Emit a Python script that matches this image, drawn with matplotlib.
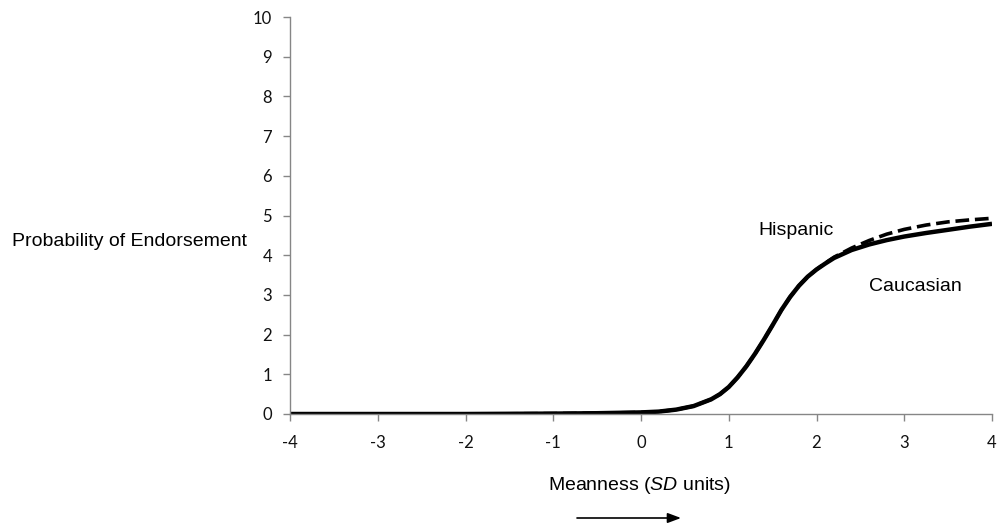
import matplotlib
matplotlib.use("Agg")
import matplotlib.pyplot as plt

plt.rcParams["mathtext.fontset"] = "custom"
plt.rcParams["mathtext.it"] = "Liberation Sans:italic"
plt.rcParams["mathtext.rm"] = "Liberation Sans"

# Data
meanness = [-4.0, -3.0, -2.0, -1.0, -0.5, 0.0, 0.2, 0.4, 0.6, 0.8, 0.9, 1.0,
            1.1, 1.2, 1.3, 1.4, 1.5, 1.6, 1.7, 1.8, 1.9, 2.0, 2.1, 2.2, 2.4,
            2.6, 2.8, 3.0, 3.25, 3.5, 3.75, 4.0]
caucasian = [0.0, 0.0, 0.0, 0.01, 0.02, 0.04, 0.06, 0.11, 0.2, 0.37, 0.5, 0.68,
             0.92, 1.2, 1.52, 1.87, 2.24, 2.62, 2.95, 3.23, 3.46, 3.64, 3.79,
             3.93, 4.13, 4.27, 4.38, 4.47, 4.56, 4.64, 4.72, 4.79]
hispanic = [0.0, 0.0, 0.0, 0.01, 0.02, 0.04, 0.06, 0.11, 0.2, 0.37, 0.5, 0.68,
            0.92, 1.2, 1.52, 1.87, 2.24, 2.62, 2.95, 3.23, 3.46, 3.64, 3.80,
            3.95, 4.18, 4.37, 4.53, 4.65, 4.76, 4.84, 4.89, 4.93]
xticks = [-4, -3, -2, -1, 0, 1, 2, 3, 4]
yticks = list(range(0, 11))

LABEL_FONT = ["Liberation Sans", "DejaVu Sans"]
TICK_FONT = ["Lato", "DejaVu Sans"]

W, H = 1000, 529
fig = plt.figure(figsize=(W / 100, H / 100), dpi=100)
ax = fig.add_axes([290 / W, 1 - 414 / H, (992 - 290) / W, (414 - 17) / H])

ax.plot(meanness, hispanic, color="black", lw=2.6, linestyle=(0, (3.8, 1.6)),
        dash_capstyle="butt", dash_joinstyle="round")
ax.plot(meanness, caucasian, color="black", lw=3.2, solid_capstyle="butt",
        solid_joinstyle="round")

ax.set_xlim(-4, 4)
ax.set_ylim(0, 10)
ax.set_xticks(xticks)
ax.set_yticks(yticks)
ax.set_xticklabels([str(v) for v in xticks], fontfamily=TICK_FONT, fontsize=12)
ax.set_yticklabels([str(v) for v in yticks], fontfamily=TICK_FONT, fontsize=12)

for s in ["top", "right"]:
    ax.spines[s].set_visible(False)
for s in ["left", "bottom"]:
    ax.spines[s].set_color("#868686")
    ax.spines[s].set_linewidth(1.0)
ax.tick_params(axis="both", direction="out", color="#868686", length=5,
               width=1.0, labelcolor="#111111")
ax.tick_params(axis="x", pad=10)
ax.tick_params(axis="y", pad=8)

ax.text(1.766, 4.63, "Hispanic", ha="center", va="center", fontsize=14,
        fontfamily=LABEL_FONT)
ax.text(3.122, 3.20, "Caucasian", ha="center", va="center", fontsize=14,
        fontfamily=LABEL_FONT)

fig.text(129 / W, 1 - 241 / H, "Probability of Endorsement", ha="center",
         va="center", fontsize=14, fontfamily=LABEL_FONT)
fig.text(639 / W, 1 - 485 / H, r"Meanness ($\mathit{SD}$ units)",
         ha="center", va="center", fontsize=14, fontfamily=LABEL_FONT)

ax.annotate("", xy=(681 / W, 1 - 518 / H), xytext=(577 / W, 1 - 518 / H),
            xycoords="figure fraction", textcoords="figure fraction",
            arrowprops=dict(arrowstyle="-|>,head_length=0.8,head_width=0.3",
                            color="black", lw=1.2, shrinkA=0, shrinkB=0))

fig.savefig("out.png", dpi=100, facecolor="white")
